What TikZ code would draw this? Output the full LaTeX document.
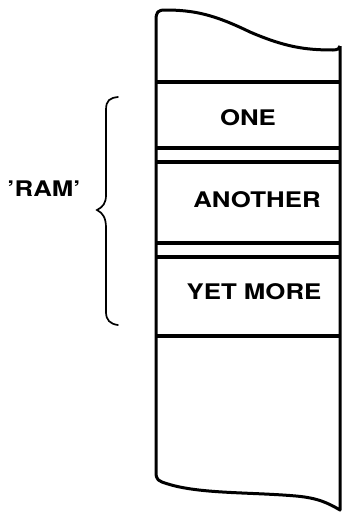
\documentclass[tikz,border=0pt]{standalone}
\usepackage{fontspec}
\setsansfont{TeX Gyre Heros}[FakeStretch=1.2]
\begin{document}
\begin{tikzpicture}[x=1pt,y=-1pt,
  wall/.style={line width=3pt,line join=round},
  divider/.style={line width=3.4pt},
  cell/.style={font=\sffamily\bfseries\fontsize{21.5}{22}\selectfont},
  brace/.style={line width=1.7pt,line cap=round}]
  \useasboundingbox (0,0) rectangle (342,512);
  % strip of memory, torn at top and bottom
  \draw[wall] (340,46) -- (340,510)
    .. controls (328,503) and (318,498) .. (296,496)
    .. controls (250,492) and (200,494) .. (168,484)
    .. controls (158,481) and (156,480) .. (156,472) -- (156,20)
    .. controls (156,12) and (158,10) .. (165,10)
    .. controls (195,10) and (215,15) .. (250,32)
    .. controls (285,47) and (305,50) .. (333,50)
    .. controls (338,50) and (340,48) .. (340,46);
  \foreach \y in {82,148,162,243,257,336}
    \draw[divider] (156,\y) -- (340,\y);
  \node[cell] (one) at (248,118) {ONE};
  \node[cell] (another) at (257,200) {ANOTHER};
  \node[cell] (yetmore) at (254,292) {YET MORE};
  % curly bracket and its label
  \draw[brace] (118,97) .. controls (110,98) and (106,100) .. (106,110) -- (106,195)
    .. controls (106,203) and (103,207) .. (97,210)
    .. controls (103,213) and (106,218) .. (106,228) -- (106,312)
    .. controls (106,320) and (110,324) .. (118,325);
  \node[cell] (ram) at (44,189) {'RAM'};
\end{tikzpicture}
\end{document}
